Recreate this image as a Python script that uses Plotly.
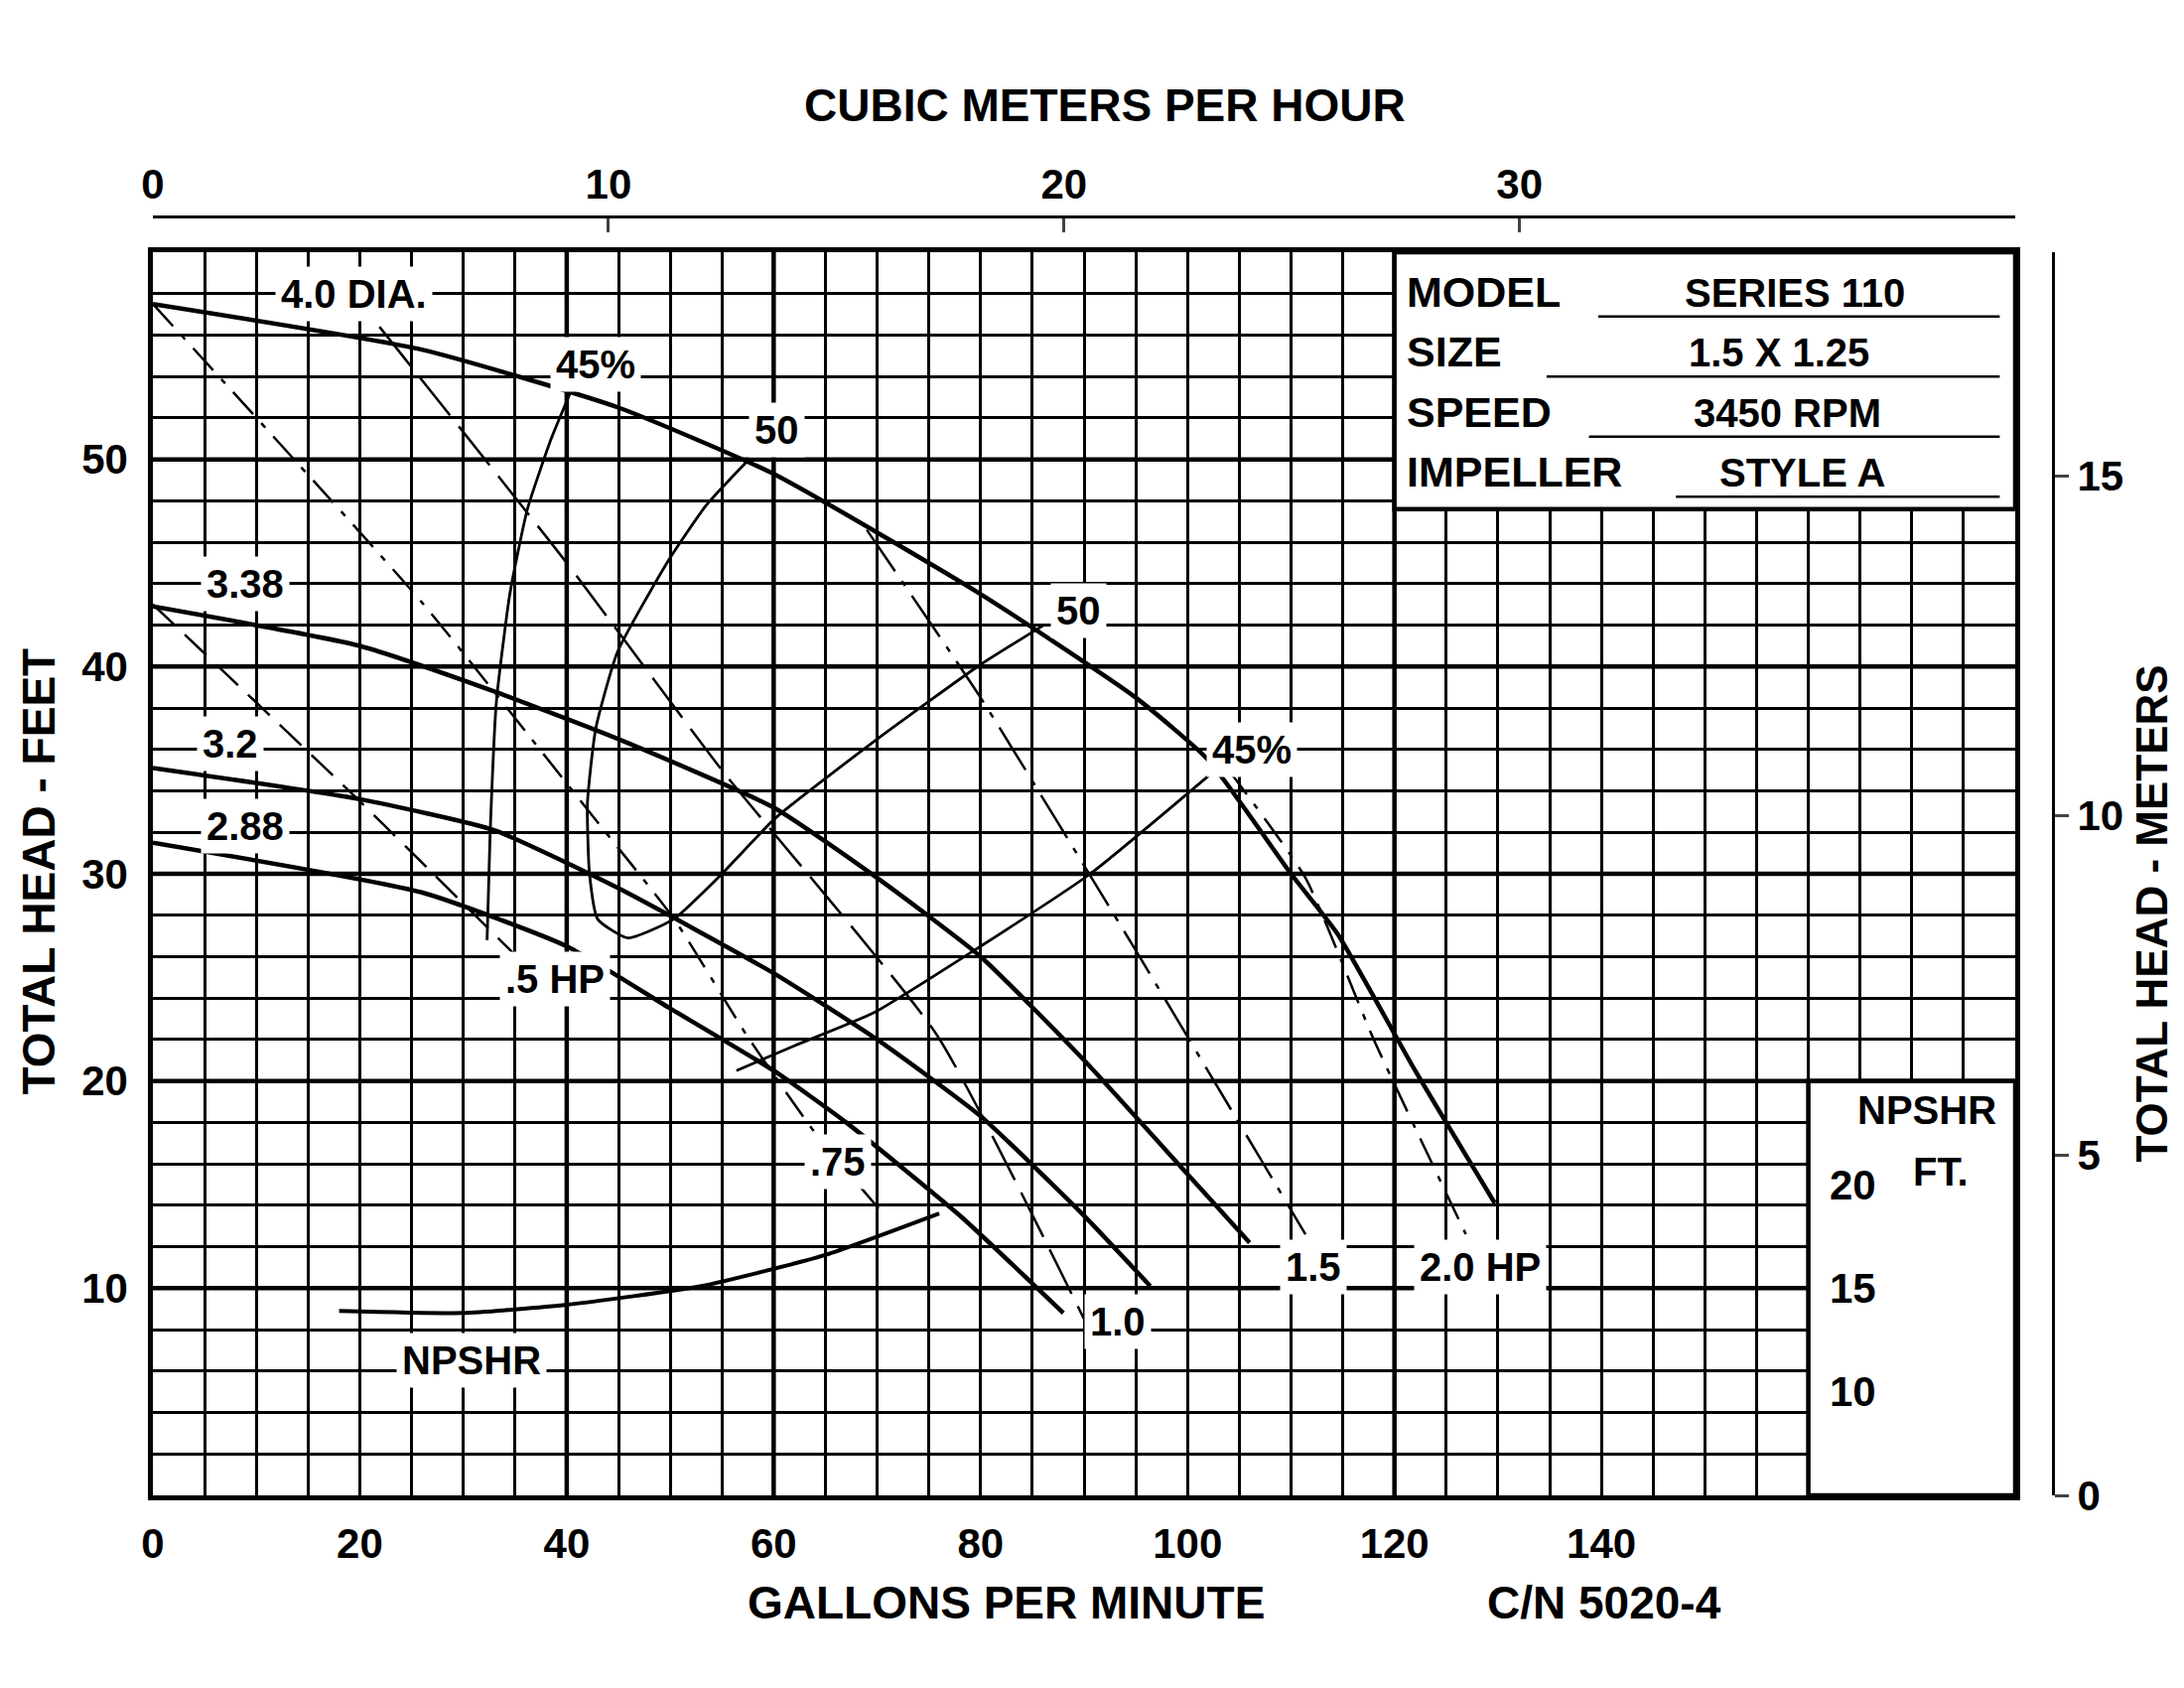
import plotly.graph_objects as go

# ---------------- data ----------------
dia_40_q = [0, 26, 45, 60, 80, 95, 102, 110, 114.5, 122, 129.7]
dia_40_h = [57.5, 55.3, 52.5, 49.3, 43.5, 38.5, 35.5, 30, 27.1, 20.5, 14.1]
dia_338_q = [0, 20, 33, 45, 60, 70, 80, 90, 100, 106]
dia_338_h = [42.9, 41, 38.8, 36.5, 33.2, 29.8, 26, 21, 15.5, 12.2]
dia_32_q = [0, 20, 33, 45, 60, 70, 80, 90, 96.4]
dia_32_h = [35.1, 33.6, 32.1, 29.3, 25.2, 22, 18.3, 13.5, 10.1]
dia_288_q = [0, 26, 40, 50, 60, 67, 78, 88]
dia_288_h = [31.5, 29.1, 26.5, 23.5, 20.5, 18, 13.5, 8.8]

eff45a_q = [32.3, 32.6, 33.2, 34.5, 36.2, 38.5, 40.5]
eff45a_h = [26.8, 32, 38.3, 43.5, 47.6, 51, 53.4]
eff50_q = [57.6, 53.5, 49.8, 44.9, 42.8, 42, 42.2, 43, 45.9, 50.3, 55, 60.2, 70, 80, 86.1]
eff50_h = [50, 47.8, 45.1, 40.7, 37, 33.4, 30, 27.8, 26.9, 27.8, 30, 32.7, 36.5, 40.1, 42]
eff45b_q = [56.4, 62, 69.7, 80, 90.6, 102.2]
eff45b_h = [20.5, 21.7, 23.3, 26.5, 30, 34.8]

hp05_q = [0, 20, 38.6]
hp05_h = [43, 33.5, 24.3]
hp075_q = [0, 26, 42, 50.4, 57.4, 64, 70.4]
hp075_h = [57.5, 43.1, 33.1, 27.8, 22.2, 17.5, 13.7]
hp10_q = [21.9, 40, 55, 75.8, 90.6]
hp10_h = [56.4, 45, 35, 22.2, 7.9]
hp15_q = [69, 80, 95, 111.4]
hp15_h = [46.6, 38.5, 26.3, 12.6]
hp20_q = [104, 111.4, 118, 126.9]
hp20_h = [35, 29.8, 22, 12.6]

npshr_q = [18, 30, 40, 53, 65, 76]
npshr_h = [8.9, 8.8, 9.2, 10.1, 11.6, 13.6]

gpm_ticks = [0, 20, 40, 60, 80, 100, 120, 140]
ft_ticks = [10, 20, 30, 40, 50]
m3h_ticks = [0, 10, 20, 30]
m_ticks = [0, 5, 10, 15]
npshr_ticks = ["20", "15", "10"]
npshr_tick_pos = [15, 10, 5]

info_labels = ["MODEL", "SIZE", "SPEED", "IMPELLER"]
info_values = ["SERIES 110", "1.5 X 1.25", "3450 RPM", "STYLE A"]

XMAX, YMAX = 180, 60
GPM_PER_M3H = 4.403
FT_PER_M = 3.281
FONT = "Liberation Sans"

fig = go.Figure()

def line(q, h, width=3.5, dash="solid"):
    fig.add_trace(go.Scatter(x=q, y=h, mode="lines",
                             line=dict(color="black", width=width, dash=dash, shape="spline", smoothing=0.5),
                             hoverinfo="skip", showlegend=False))

for q, h in [(dia_40_q, dia_40_h), (dia_338_q, dia_338_h), (dia_32_q, dia_32_h), (dia_288_q, dia_288_h)]:
    line(q, h, 4.5)
for q, h in [(eff45a_q, eff45a_h), (eff50_q, eff50_h), (eff45b_q, eff45b_h)]:
    line(q, h, 2.8)
line(hp05_q, hp05_h, 2.5, "30px,14px")
line(hp075_q, hp075_h, 2.5, "30px,12px,6px,12px")
line(hp10_q, hp10_h, 2.5, "50px,14px")
line(hp15_q, hp15_h, 2.5, "50px,12px,6px,12px")
line(hp20_q, hp20_h, 2.5, "30px,12px,6px,12px")
line(npshr_q, npshr_h, 4)

fig.add_trace(go.Scatter(x=[0], y=[0], xaxis="x2", yaxis="y", mode="markers", marker=dict(opacity=0), showlegend=False, hoverinfo="skip"))
fig.add_trace(go.Scatter(x=[0], y=[0], xaxis="x", yaxis="y2", mode="markers", marker=dict(opacity=0), showlegend=False, hoverinfo="skip"))

shapes = []
for xv in [40, 60, 120]:
    shapes.append(dict(type="line", x0=xv, x1=xv, y0=0, y1=YMAX, xref="x", yref="y", line=dict(color="black", width=4.5), layer="below"))
for yv in ft_ticks:
    shapes.append(dict(type="line", x0=0, x1=XMAX, y0=yv, y1=yv, xref="x", yref="y", line=dict(color="black", width=4.5), layer="below"))
shapes.append(dict(type="rect", x0=120, x1=XMAX, y0=47.6, y1=YMAX, xref="x", yref="y", fillcolor="white", line=dict(color="black", width=4.5), layer="above"))
shapes.append(dict(type="rect", x0=160, x1=XMAX, y0=0, y1=20, xref="x", yref="y", fillcolor="white", line=dict(color="black", width=4.5), layer="above"))

ann = []
def txt(x, y, s, size=40, bg=None, ref="data", **kw):
    d = dict(x=x, y=y, text="<b>" + s + "</b>", showarrow=False, xanchor="center", yanchor="middle",
             font=dict(family=FONT, size=size, color="black"))
    if ref == "data":
        d.update(xref="x", yref="y")
    else:
        d.update(xref="paper", yref="paper")
    if bg:
        d.update(bgcolor=bg, borderpad=5)
    d.update(kw)
    ann.append(d)

row_y = [57.1, 54.2, 51.3, 48.4]
row_x0 = [139.7, 134.7, 138.8, 147.2]
row_vx = [158.7, 157.2, 158.0, 159.4]
for lab, val, ry, ux, vx in zip(info_labels, info_values, row_y, row_x0, row_vx):
    txt(121.0, ry + 1.0, lab, 43, xanchor="left")
    txt(vx, ry + 0.95, val, 40)
    shapes.append(dict(type="line", x0=ux, x1=178.5, y0=ry - 0.2, y1=ry - 0.2, xref="x", yref="y",
                       line=dict(color="black", width=2.5), layer="above"))

txt(19.4, 58, "4.0 DIA.", bg="white")
txt(8.9, 44, "3.38", bg="white")
txt(7.5, 36.3, "3.2", bg="white")
txt(8.9, 32.3, "2.88", bg="white")
txt(42.8, 54.6, "45%", bg="white")
txt(60.3, 51.4, "50", bg="white")
txt(89.5, 42.7, "50", bg="white")
txt(106.2, 36, "45%", bg="white")
txt(38.9, 24.9, ".5 HP", bg="white")
txt(66.2, 16.1, ".75", bg="white")
txt(93.3, 8.4, "1.0", bg="white")
txt(112.2, 11, "1.5", bg="white")
txt(128.3, 11, "2.0 HP", bg="white")
txt(30.8, 6.5, "NPSHR", bg="white")
txt(171.5, 18.6, "NPSHR", 40)
txt(172.8, 15.6, "FT.", 40)
for s, p in zip(npshr_ticks, npshr_tick_pos):
    txt(164.3, p, s, 42)

txt(0.449, -0.084, "GALLONS PER MINUTE", 46, ref="paper")
txt(0.764, -0.084, "C/N 5020-4", 46, ref="paper")
txt(0.501, 1.087, "CUBIC METERS PER HOUR", 46, ref="paper")
txt(-0.060, 0.488, "TOTAL HEAD - FEET", 46, ref="paper", textangle=-90)
txt(1.052, 0.455, "TOTAL HEAD - METERS", 44, ref="paper", textangle=-90)

tickfont = dict(family=FONT, size=42, color="black")
W, H = 2200, 1700
L, R, T, B = 146, 140, 210, 202
xdom = (2022 - L) / (W - L - R)
ydom = (H - B - 246) / (H - T - B)

fig.update_layout(
    width=W, height=H, margin=dict(l=L, r=R, t=T, b=B),
    paper_bgcolor="white", plot_bgcolor="white", showlegend=False,
    shapes=shapes, annotations=ann,
    xaxis=dict(domain=[0, xdom], range=[0, XMAX], tickvals=gpm_ticks, ticktext=["<b>%d</b>" % v for v in gpm_ticks],
               tickfont=tickfont, ticks="", showgrid=False, zeroline=False, showline=True, mirror=True,
               linecolor="black", linewidth=4.5, ticklabelstandoff=8,
               minor=dict(dtick=5, tick0=0, showgrid=True, gridcolor="black", gridwidth=2.5)),
    yaxis=dict(domain=[0, ydom], range=[0, YMAX], tickvals=ft_ticks, ticktext=["<b>%d</b>" % v for v in ft_ticks],
               tickfont=tickfont, ticks="", showgrid=False, zeroline=False, showline=True, mirror=True,
               linecolor="black", linewidth=4.5, ticklabelstandoff=12,
               minor=dict(dtick=2, tick0=0, showgrid=True, gridcolor="black", gridwidth=2.5)),
    xaxis2=dict(domain=[0, xdom], overlaying="x", side="top", anchor="free", position=1,
                range=[0, XMAX / GPM_PER_M3H], tickvals=m3h_ticks, ticktext=["<b>%d</b>" % v for v in m3h_ticks],
                tickfont=tickfont, ticks="inside", ticklen=14, tickwidth=3, showgrid=False, zeroline=False,
                showline=True, linecolor="black", linewidth=3),
    yaxis2=dict(domain=[0, ydom], overlaying="y", side="right", anchor="free", position=1,
                range=[0, YMAX / FT_PER_M], tickvals=m_ticks, ticktext=["<b>%d</b>" % v for v in m_ticks],
                tickfont=tickfont, ticks="outside", ticklen=14, tickwidth=3, showgrid=False, zeroline=False,
                showline=True, linecolor="black", linewidth=3),
)

fig.write_html("out.html")
